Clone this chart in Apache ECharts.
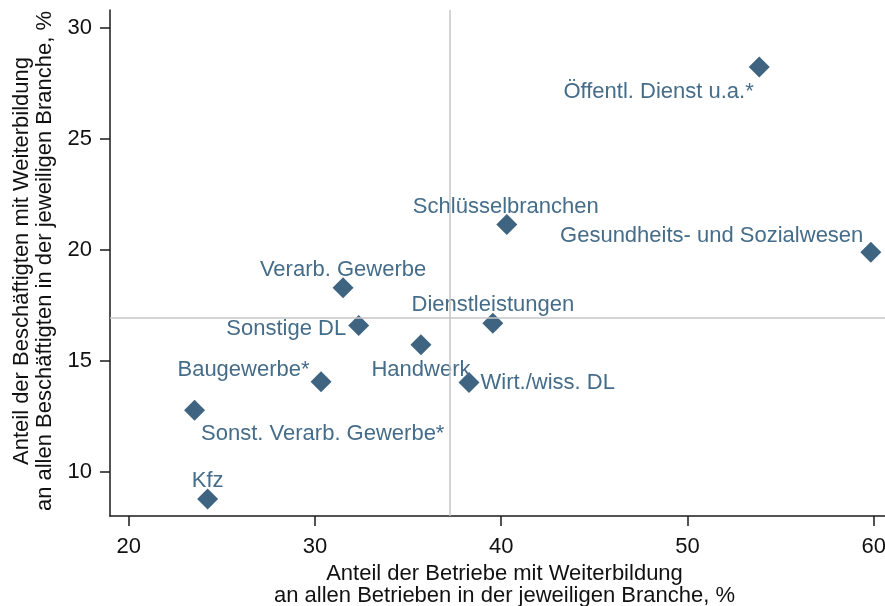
<!DOCTYPE html>
<html>
<head>
<meta charset="utf-8">
<script src="https://cdn.jsdelivr.net/npm/echarts@6/dist/echarts.min.js"></script>
<style>
  html, body { margin: 0; padding: 0; background: #fff; }
  #chart { width: 885px; height: 606px; }
</style>
</head>
<body>
<div id="chart"></div>
<script>
// Branchen und Werte
const branchen = [
  'Öffentl. Dienst u.a.*', 'Schlüsselbranchen', 'Gesundheits- und Sozialwesen',
  'Verarb. Gewerbe', 'Sonstige DL', 'Dienstleistungen', 'Handwerk',
  'Baugewerbe*', 'Wirt./wiss. DL', 'Sonst. Verarb. Gewerbe*', 'Kfz'
]
const anteilBetriebe = [53.85, 40.3, 59.84, 31.51, 32.35, 39.55, 35.69, 30.33, 38.27, 23.54, 24.24]
const anteilBeschaeftigte = [28.23, 21.14, 19.89, 18.29, 16.58, 16.69, 15.72, 14.05, 14.02, 12.76, 8.77]

// Referenzlinien (Durchschnitt)
const refBetriebe = 37.25
const refBeschaeftigte = 16.94

const xTicks = [20, 30, 40, 50, 60]
const yTicks = [10, 15, 20, 25, 30]

// Beschriftungsposition je Punkt
const labelPlacement = {
  'Öffentl. Dienst u.a.*': { position: 'left', offset: [10, 25] },
  'Schlüsselbranchen': { position: 'top', offset: [-1, 9] },
  'Gesundheits- und Sozialwesen': { position: 'left', offset: [8, -16] },
  'Verarb. Gewerbe': { position: 'top', offset: [0, 9] },
  'Sonstige DL': { position: 'left', offset: [3, 3] },
  'Dienstleistungen': { position: 'top', offset: [0, 8] },
  'Handwerk': { position: 'bottom', offset: [0, -1] },
  'Baugewerbe*': { position: 'left', offset: [4, -12] },
  'Wirt./wiss. DL': { position: 'right', offset: [-4, 1] },
  'Sonst. Verarb. Gewerbe*': { position: 'right', offset: [-9, 24] },
  'Kfz': { position: 'top', offset: [0, 9] },
}

const font = 'Liberation Sans, Arial, sans-serif'
const markColor = '#3e6482'

const points = branchen.map((name, i) => ({
  name,
  value: [anteilBetriebe[i], anteilBeschaeftigte[i]],
  label: labelPlacement[name],
}))

const axisCommon = {
  axisLine: { show: true, onZero: false, lineStyle: { color: '#1a1a1a', width: 1.5 } },
  axisTick: { show: true, length: 10, lineStyle: { color: '#1a1a1a', width: 1.5 } },
  splitLine: { show: false },
}

const chart = echarts.init(document.getElementById('chart'))
chart.setOption({
  animation: false,
  backgroundColor: '#fff',
  grid: { left: 110, right: 0, top: 10, bottom: 90, containLabel: false, outerBoundsMode: 'none' },
  xAxis: {
    type: 'value',
    min: 19,
    max: 60.6,
    ...axisCommon,
    axisTick: { ...axisCommon.axisTick, customValues: xTicks },
    axisLabel: { customValues: xTicks, color: '#111', fontSize: 22, fontFamily: font, margin: 20 },
    name: 'Anteil der Betriebe mit Weiterbildung\nan allen Betrieben in der jeweiligen Branche, %',
    nameLocation: 'middle',
    nameGap: 46,
    nameTextStyle: { color: '#111', fontSize: 22, fontFamily: font, lineHeight: 22, padding: [0, 0, 0, 14] },
  },
  yAxis: {
    type: 'value',
    min: 8,
    max: 30.8,
    ...axisCommon,
    axisTick: { ...axisCommon.axisTick, customValues: yTicks },
    axisLabel: { customValues: yTicks, color: '#111', fontSize: 22, fontFamily: font, margin: 18 },
    name: 'Anteil der Beschäftigten mit Weiterbildung\nan allen Beschäftigten in der jeweiligen Branche, %',
    nameLocation: 'middle',
    nameGap: 53,
    nameTextStyle: { color: '#111', fontSize: 22, fontFamily: font, lineHeight: 23, padding: [0, 0, 0, 4] },
  },
  series: [
    {
      type: 'scatter',
      symbol: 'diamond',
      symbolSize: 21,
      itemStyle: { color: markColor, opacity: 1 },
      label: {
        show: true,
        formatter: (p) => p.name,
        color: '#456c89',
        fontSize: 22,
        fontFamily: font,
      },
      data: points,
      markLine: {
        silent: true,
        symbol: 'none',
        label: { show: false },
        lineStyle: { color: '#c6c6c6', width: 1.5, type: 'solid' },
        data: [{ xAxis: refBetriebe }, { yAxis: refBeschaeftigte }],
      },
      z: 3,
    },
  ],
})
</script>
</body>
</html>
